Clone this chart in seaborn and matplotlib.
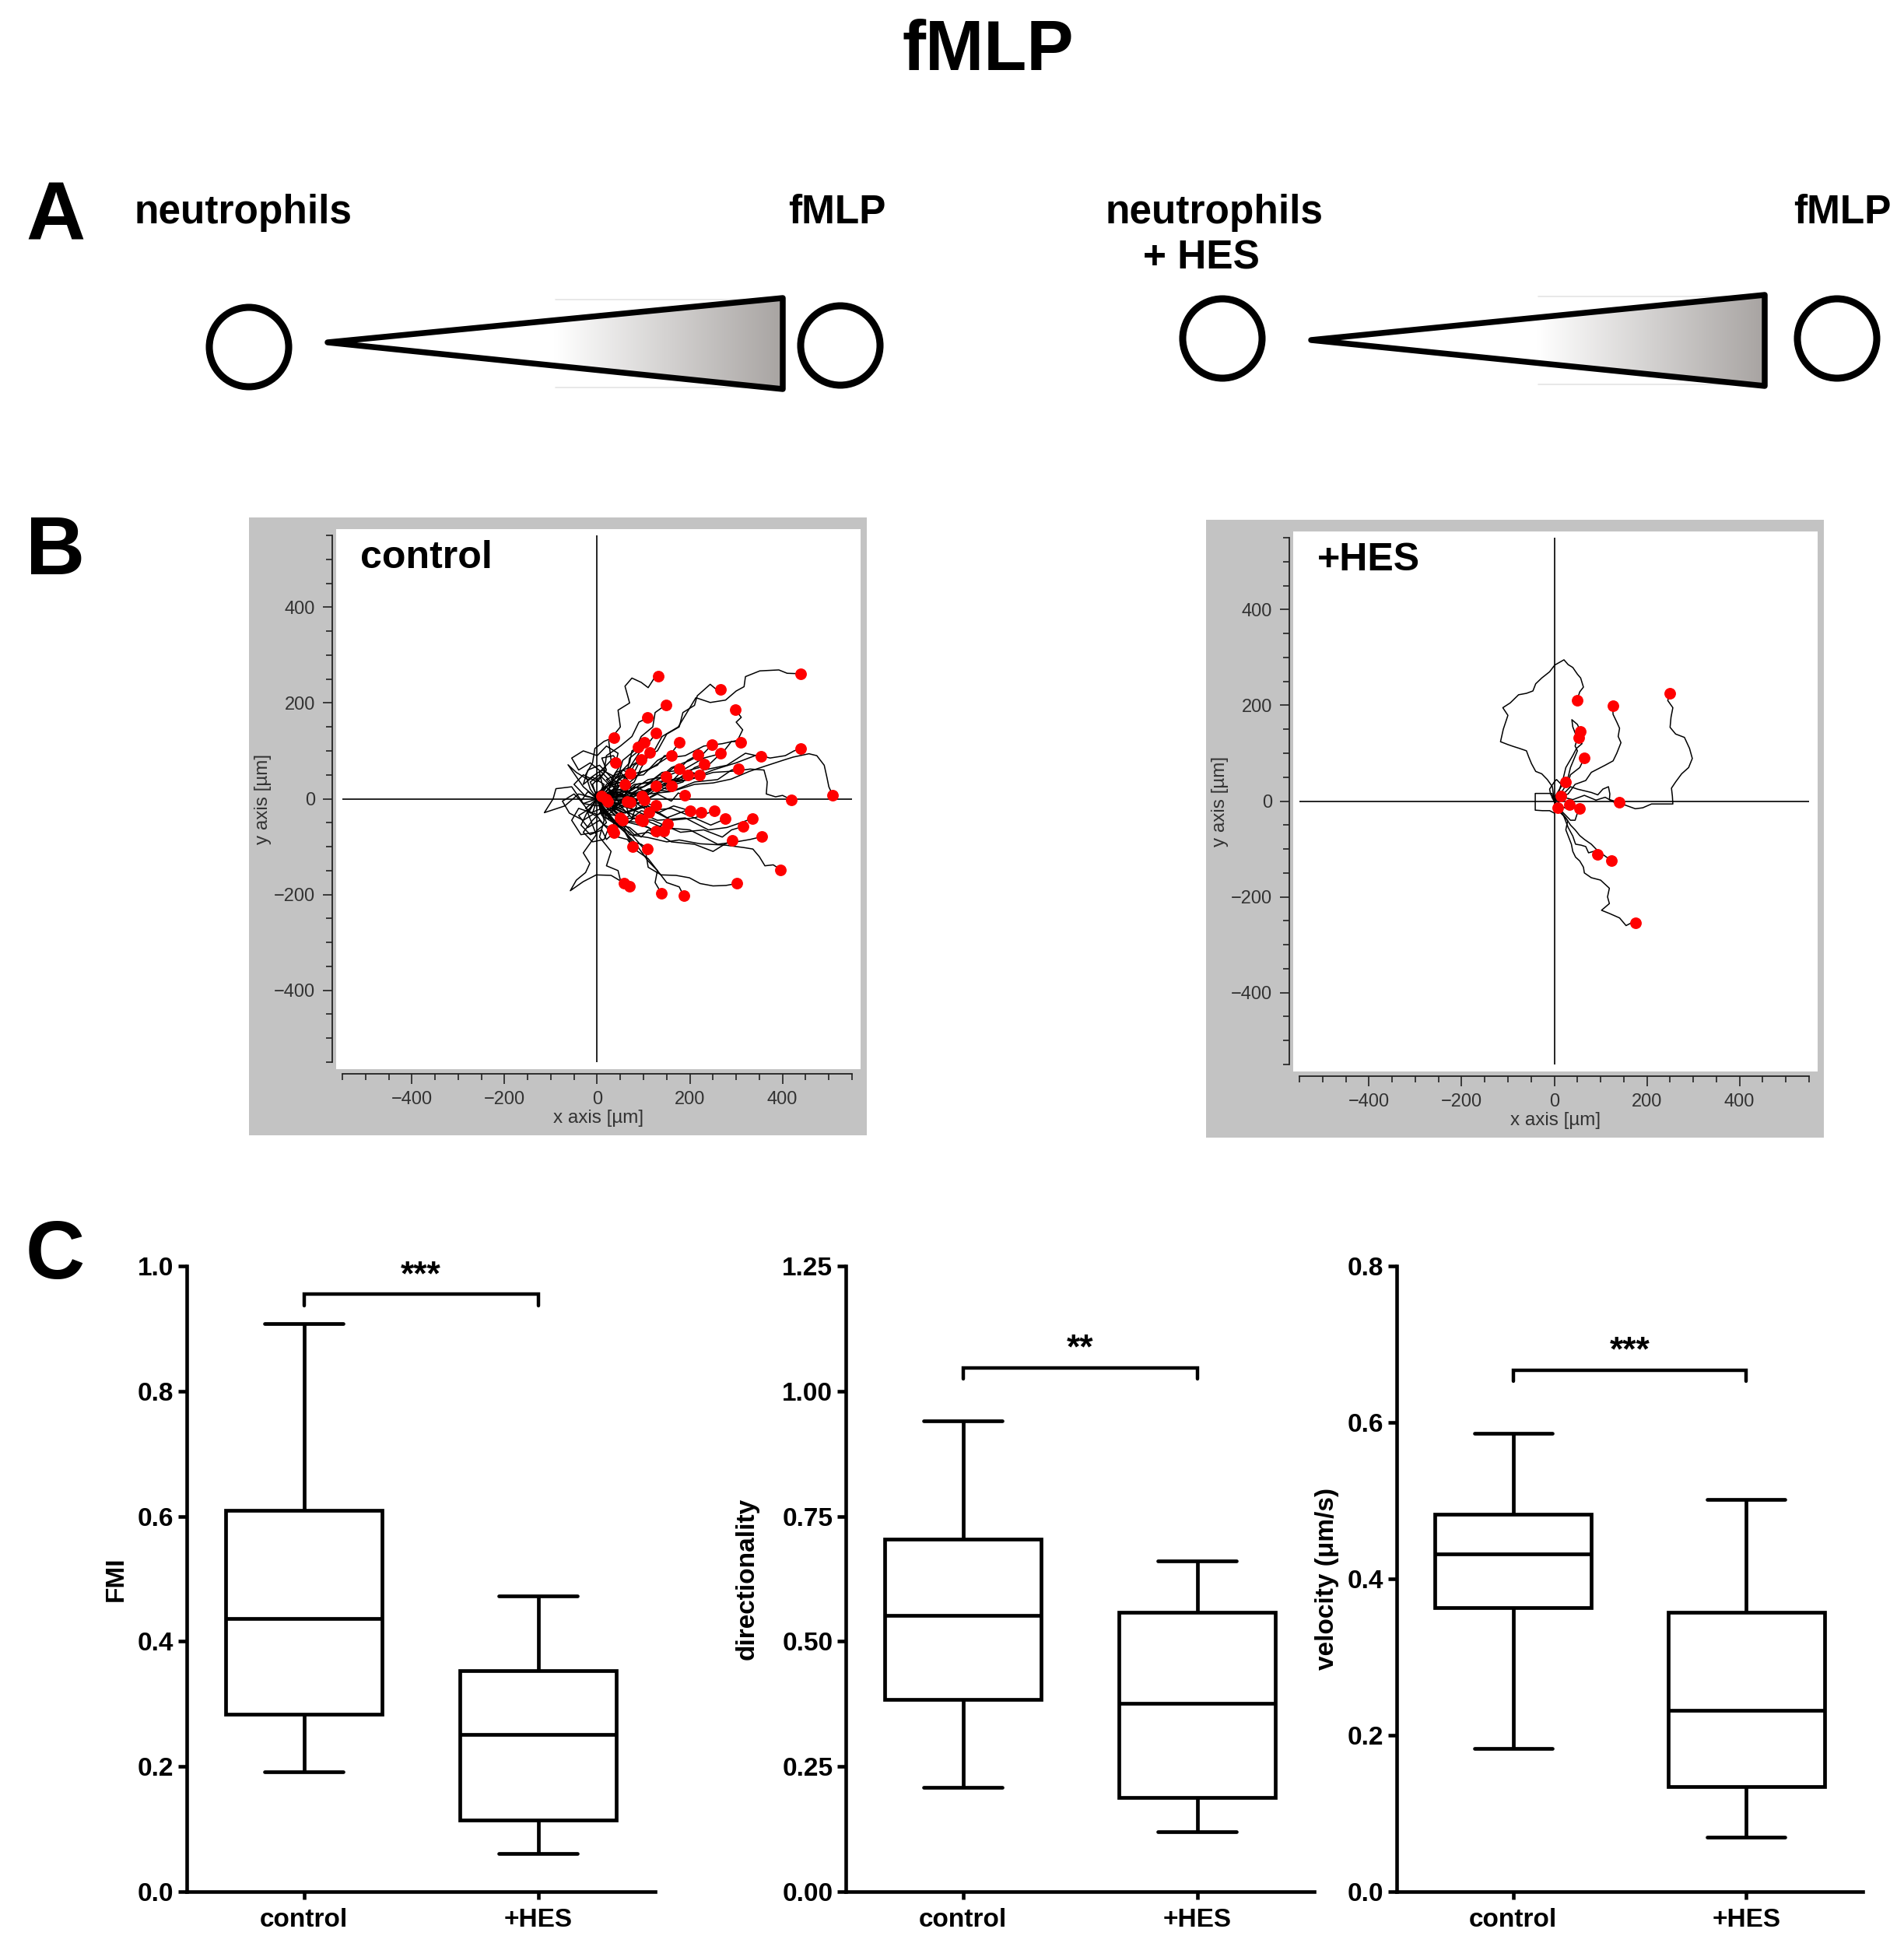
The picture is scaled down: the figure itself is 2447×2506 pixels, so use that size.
import numpy as np
import pandas as pd
import matplotlib
matplotlib.use("Agg")
import matplotlib.pyplot as plt
import seaborn as sns
from matplotlib.patches import Rectangle, Circle, Polygon
from matplotlib.colors import LinearSegmentedColormap

# ------------------------------------------------------------------ data
groups = ["control", "+HES"]

# box plot summaries: [min, q1, median, q3, max]
fmi_control = [0.191, 0.284, 0.436, 0.609, 0.908]
fmi_hes = [0.061, 0.114, 0.251, 0.353, 0.473]
dir_control = [0.209, 0.384, 0.552, 0.705, 0.940]
dir_hes = [0.120, 0.188, 0.376, 0.558, 0.660]
vel_control = [0.183, 0.363, 0.432, 0.483, 0.586]
vel_hes = [0.070, 0.134, 0.232, 0.357, 0.501]

sig_heights = [0.955, 1.047, 0.667]
sig_labels = ["***", "**", "***"]

fmi_ticks = [0.0, 0.2, 0.4, 0.6, 0.8, 1.0]
dir_ticks = [0.0, 0.25, 0.50, 0.75, 1.00, 1.25]
vel_ticks = [0.0, 0.2, 0.4, 0.6, 0.8]

track_major_ticks = [-400, -200, 0, 200, 400]
track_extent = 550

# trajectories (µm), each track starts at the origin; last point = red dot
control_tracks = [
    [(0,0),(12,25),(5,55),(30,80),(25,120),(50,150),(45,185),(70,200),(60,235),(75,252),(95,243),(110,232),(122,250),(131,256)],
    [(0,0),(30,10),(45,40),(80,55),(95,85),(130,100),(150,135),(177,150),(185,180),(210,195),(216,215),(244,239),(255,230),(267,229)],
    [(0,0),(25,30),(60,35),(80,70),(120,95),(140,130),(175,150),(200,190),(213,211),(244,201),(277,206),(300,225),(317,234),(320,255),(351,267),(392,269),(410,262),(439,261)],
    [(0,0),(20,30),(45,45),(55,80),(80,100),(95,130),(120,150),(125,180),(148,196)],
    [(0,0),(40,20),(70,50),(110,60),(150,85),(190,90),(230,110),(270,115),(303,122),(314,144),(300,160),(311,170),(298,186)],
    [(0,0),(-10,30),(15,55),(20,90),(50,110),(75,130),(90,160),(109,169)],
    [(0,0),(-15,20),(-25,50),(-10,75),(-5,105),(15,120),(36,128)],
    [(0,0),(25,20),(40,55),(70,65),(90,95),(110,115),(127,137)],
    [(0,0),(15,25),(40,30),(55,60),(70,75),(75,100),(88,108)],
    [(0,0),(30,10),(45,40),(65,55),(70,85),(90,100),(101,117)],
    [(0,0),(35,-10),(55,20),(80,35),(95,65),(105,80),(114,96)],
    [(0,0),(40,15),(60,45),(100,50),(130,80),(160,95),(178,118)],
    [(0,0),(45,5),(80,30),(125,35),(160,65),(200,80),(230,95),(248,113)],
    [(0,0),(50,20),(100,25),(140,55),(185,60),(230,85),(270,95),(290,120),(310,118)],
    [(0,0),(60,-5),(110,20),(160,30),(200,60),(240,70),(267,95)],
    [(0,0),(70,10),(120,35),(180,40),(230,60),(280,70),(320,95),(353,88)],
    [(0,0),(80,5),(140,30),(200,40),(250,60),(300,75),(346,92),(373,85),(406,90),(425,100),(439,105)],
    [(0,0),(30,25),(65,30),(95,55),(130,70),(145,90),(161,90)],
    [(0,0),(50,-10),(90,20),(130,40),(170,55),(195,80),(218,92)],
    [(0,0),(55,15),(100,5),(140,35),(185,45),(210,65),(231,73)],
    [(0,0),(20,15),(40,45),(60,50),(75,70),(95,82)],
    [(0,0),(60,-15),(110,10),(160,15),(210,35),(260,40),(290,60),(305,63)],
    [(0,0),(35,20),(70,15),(110,40),(140,45),(165,65),(178,62)],
    [(0,0),(45,-10),(90,15),(130,20),(165,40),(180,55),(195,50)],
    [(0,0),(50,10),(100,-5),(150,25),(185,35),(205,55),(221,50)],
    [(0,0),(-30,25),(-63,71),(-45,55),(-20,40),(10,60),(40,45),(55,60),(71,53)],
    [(0,0),(30,15),(55,5),(85,30),(115,35),(135,50),(148,46)],
    [(0,0),(40,-15),(75,10),(105,5),(135,25),(150,20),(161,27)],
    [(0,0),(25,20),(55,5),(80,25),(105,15),(126,27)],
    [(0,0),(45,15),(90,-10),(130,10),(160,-5),(175,12),(189,7)],
    [(0,0),(50,15),(100,10),(150,35),(200,40),(250,55),(300,58),(330,62),(360,60),(367,35),(365,10),(385,4),(400,7),(419,-2)],
    [(0,0),(60,-5),(110,20),(160,15),(210,30),(250,33),(289,41),(328,57),(362,68),(400,80),(423,87),(457,94),(474,90),(490,70),(496,44),(500,25),(508,8)],
    [(0,0),(-25,-20),(-5,-35),(25,-25),(45,-10),(71,-8)],
    [(0,0),(25,20),(45,-5),(70,5),(85,-10),(101,-2)],
    [(0,0),(-40,10),(-70,-15),(-114,-29),(-95,0),(-89,21),(-55,25),(-30,-10),(0,-15),(23,-6)],
    [(0,0),(30,-25),(55,-5),(80,-25),(105,-10),(126,-14)],
    [(0,0),(50,-20),(90,0),(130,-30),(165,-15),(200,-25)],
    [(0,0),(55,-30),(100,-15),(150,-40),(190,-25),(225,-29)],
    [(0,0),(60,5),(110,-25),(160,-20),(210,-40),(253,-25)],
    [(0,0),(20,-35),(50,-15),(75,-40),(95,-25),(112,-29)],
    [(0,0),(10,-30),(40,-35),(60,-55),(80,-40),(98,-46)],
    [(0,0),(60,-30),(110,-15),(160,-45),(210,-40),(245,-55),(277,-42)],
    [(0,0),(70,-20),(130,-45),(190,-40),(240,-65),(280,-60),(310,-50),(335,-41)],
    [(0,0),(60,-40),(120,-45),(180,-70),(230,-65),(270,-80),(290,-65),(315,-58)],
    [(0,0),(70,-30),(140,-60),(200,-65),(260,-95),(300,-90),(330,-85),(356,-79)],
    [(0,0),(50,-45),(110,-60),(160,-90),(210,-95),(250,-110),(275,-95),(292,-87)],
    [(0,0),(30,-20),(55,-45),(90,-50),(120,-65),(140,-55),(152,-52)],
    [(0,0),(20,-40),(55,-50),(80,-75),(110,-70),(130,-80),(143,-67)],
    [(0,0),(15,-30),(45,-55),(70,-60),(95,-80),(110,-65),(126,-68)],
    [(0,0),(-20,-25),(-35,-55),(-15,-75),(10,-65),(20,-85),(36,-71)],
    [(0,0),(10,-35),(35,-50),(45,-80),(65,-85),(77,-100)],
    [(0,0),(30,-40),(55,-60),(75,-90),(95,-95),(109,-104)],
    [(0,0),(40,-35),(70,-75),(110,-81),(150,-90),(177,-86),(222,-94),(278,-97),(317,-102),(336,-105),(350,-121),(362,-140),(380,-138),(396,-148)],
    [(0,0),(35,-50),(70,-70),(104,-108),(110,-143),(138,-159),(170,-160),(199,-165),(222,-177),(250,-182),(278,-181),(301,-177)],
    [(0,0),(-20,-30),(-2,-75),(-30,-113),(-16,-135),(-25,-154),(-45,-170),(-58,-192),(-30,-173),(-2,-159),(30,-160),(58,-176)],
    [(0,0),(15,-45),(5,-80),(30,-110),(20,-140),(45,-150),(50,-170),(69,-182)],
    [(0,0),(25,-40),(60,-70),(80,-105),(110,-125),(130,-150),(125,-175),(139,-198)],
    [(0,0),(45,-55),(80,-90),(110,-130),(130,-150),(150,-175),(177,-184),(187,-203)],
    # short wandering tracks that make up the dense cluster at the origin
    [(0,0),(-20,15),(-35,-5),(-15,-30),(10,-20),(-5,10),(20,25),(35,5),(15,-10),(20,0)],
    [(0,0),(15,30),(-10,45),(-30,30),(-20,60),(5,70),(25,50),(45,30),(30,10),(55,5),(65,-5)],
    [(0,0),(-15,-20),(-40,-35),(-20,-60),(5,-45),(30,-70),(45,-50),(70,-35),(60,-10),(85,-5),(96,5)],
    [(0,0),(10,-25),(-10,-45),(-30,-70),(-10,-90),(15,-85),(25,-60),(40,-75),(32,-64)],
    [(0,0),(25,-10),(40,20),(20,40),(50,55),(70,35),(60,15),(85,-15),(75,-40),(93,-43)],
    [(0,0),(-25,5),(-50,30),(-30,50),(0,35),(20,60),(10,85),(35,90),(50,70),(30,40),(60,30)],
    [(0,0),(-10,-30),(-40,-20),(-55,-45),(-35,-75),(-5,-70),(20,-50),(10,-25),(35,-20),(50,-40)],
    [(0,0),(30,35),(10,55),(-15,75),(-40,60),(-55,85),(-30,100),(0,90),(20,110),(45,95),(40,75)],
    [(0,0),(-30,-10),(-50,10),(-75,-5),(-60,-30),(-30,-45),(-5,-30),(15,-55),(40,-65),(55,-45)],
    [(0,0),(20,10),(35,-15),(55,0),(70,25),(50,40),(25,30),(5,50),(-15,35),(-5,15),(10,5)],
]

hes_tracks = [
    [(0,0),(20,8),(40,3),(65,12),(90,2),(110,8),(130,-3),(152,-8),(175,-16),(191,-14),(210,-6),(231,-6),(256,-6),(255,10),(253,27),(262,40),(275,57),(290,70),(298,89),(292,110),(281,133),(262,140),(250,154),(252,175),(256,195),(245,210),(249,225)],
    [(0,0),(10,-12),(15,-25),(29,-41),(25,-60),(37,-90),(40,-105),(46,-117),(55,-125),(63,-138),(65,-150),(80,-160),(100,-165),(119,-182),(115,-200),(119,-214),(102,-228),(120,-235),(141,-244),(155,-260),(165,-255),(176,-255)],
    [(0,0),(-4,30),(-15,45),(-27,57),(-40,62),(-49,78),(-55,92),(-60,105),(-75,110),(-88,114),(-100,118),(-116,124),(-110,150),(-100,179),(-111,195),(-95,205),(-77,222),(-60,225),(-46,230),(-40,245),(-27,257),(-10,270),(1,284),(21,295),(30,285),(40,279),(50,265),(57,257),(63,238),(55,228),(49,210)],
    [(0,0),(15,10),(30,15),(45,35),(68,43),(80,60),(96,68),(110,75),(127,84),(135,100),(144,122),(138,135),(141,152),(135,165),(127,181),(126,199)],
    [(0,0),(10,20),(20,50),(25,70),(40,95),(48,110),(60,120),(50,130),(40,155),(38,170),(50,160),(57,145)],
    [(0,0),(5,15),(15,30),(30,50),(35,70),(50,105),(45,115),(48,125),(53,133)],
    [(0,0),(10,10),(20,25),(30,40),(35,55),(55,70),(60,80),(65,90)],
    [(0,0),(10,8),(20,15),(35,30),(50,25),(63,22),(80,18),(94,13),(105,25),(117,30),(120,15),(119,3),(130,0),(140,-3)],
    [(0,0),(-8,15),(-10,25),(0,40),(5,45),(15,35),(25,39)],
    [(0,0),(-5,8),(5,12),(10,-5),(8,5),(15,11)],
    [(0,0),(-5,16),(-41,16),(-41,-19),(-25,-20),(-10,-20),(0,-25),(7,-14)],
    [(0,0),(8,-12),(15,-25),(18,-12),(25,-15),(32,-8)],
    [(0,0),(10,-15),(25,-30),(35,-40),(45,-40),(50,-25),(54,-15)],
    [(0,0),(8,-20),(20,-30),(30,-55),(40,-73),(46,-90),(58,-92),(68,-95),(74,-108),(85,-105),(93,-111)],
    [(0,0),(12,-20),(25,-35),(35,-50),(45,-60),(55,-72),(65,-80),(80,-90),(90,-100),(100,-108),(110,-115),(124,-125)],
]

# ------------------------------------------------------------------ style
sns.set_style("ticks")
plt.rcParams["font.family"] = ["Liberation Sans", "DejaVu Sans"]
plt.rcParams.update({"text.color": "black", "axes.labelcolor": "black",
                     "xtick.color": "black", "ytick.color": "black",
                     "axes.edgecolor": "black"})

W, H = 2447, 2506
fig = plt.figure(figsize=(W / 100, H / 100), dpi=100)


def rect(x0, y0, x1, y1):
    return [x0 / W, 1 - y1 / H, (x1 - x0) / W, (y1 - y0) / H]


def fx(x):
    return x / W


def fy(y):
    return 1 - y / H


# overlay axes in pixel coordinates (schematic, frames, headings)
over = fig.add_axes([0, 0, 1, 1], zorder=0)
over.set_xlim(0, W)
over.set_ylim(H, 0)
over.set_autoscale_on(False)
over.axis("off")

over.text(1270, 90, "fMLP", ha="center", va="baseline", fontsize=65, fontweight="bold")
over.text(33, 308, "A", ha="left", va="baseline", fontsize=76, fontweight="bold")
over.text(33, 738, "B", ha="left", va="baseline", fontsize=76, fontweight="bold")
over.text(33, 1643, "C", ha="left", va="baseline", fontsize=76, fontweight="bold")

over.text(172, 287, "neutrophils", ha="left", va="baseline", fontsize=37, fontweight="bold")
over.text(1013, 287, "fMLP", ha="left", va="baseline", fontsize=37, fontweight="bold")
over.text(1561, 287, "neutrophils", ha="center", va="baseline", fontsize=37, fontweight="bold")
over.text(1544, 345, "+ HES", ha="center", va="baseline", fontsize=37, fontweight="bold")
over.text(2305, 287, "fMLP", ha="left", va="baseline", fontsize=37, fontweight="bold")

grad_cmap = LinearSegmentedColormap.from_list(
    "grad", [(0, "white"), (0.5, "white"), (1.0, "#a8a4a2")])


def schematic(c1, c2, tip, xr, ytop, ybot):
    for c in (c1, c2):
        over.add_patch(Circle(c, 51, fill=False, lw=6.5, edgecolor="black", zorder=3))
    tri = Polygon([tip, (xr, ytop), (xr, ybot)], closed=True, facecolor="none",
                  edgecolor="black", lw=5.4, joinstyle="round", zorder=3)
    over.add_patch(tri)
    grad = np.linspace(0, 1, 256).reshape(1, -1)
    im = over.imshow(grad, cmap=grad_cmap, extent=(tip[0], xr, ybot, ytop),
                     aspect="auto", zorder=2, interpolation="bilinear")
    im.set_clip_path(tri)
    xg = tip[0] + 0.5 * (xr - tip[0])
    over.plot([xg, xr], [ytop + 2, ytop + 2], color="#e4e4e4", lw=1.2, zorder=1)
    over.plot([xg, xr], [ybot - 2, ybot - 2], color="#e4e4e4", lw=1.2, zorder=1)


schematic((320, 446), (1080, 444), (421, 440), 1006, 383, 500)
schematic((1571, 435), (2361, 435), (1685, 437), 2268, 379, 496)
over.set_xlim(0, W)
over.set_ylim(H, 0)


# ------------------------------------------------------------------ panel B
def track_panel(tracks, dx, dy, title):
    frame = (320 + dx, 665 + dy, 1114 + dx, 1459 + dy)
    over.add_patch(Rectangle((frame[0], frame[1]), frame[2] - frame[0], frame[3] - frame[1],
                             facecolor="#c3c3c3", edgecolor="none", zorder=0))
    white = (432 + dx, 680 + dy, 1106 + dx, 1374 + dy)
    ax = fig.add_axes(rect(*white), zorder=2)
    ax.set_facecolor("white")

    rows = [(i, j, x, y) for i, tr in enumerate(tracks) for j, (x, y) in enumerate(tr)]
    df = pd.DataFrame(rows, columns=["track", "step", "x", "y"])
    ends = df.groupby("track").last().reset_index()

    ax.hlines(0, -track_extent, track_extent, color="black", lw=1.2, zorder=1)
    ax.vlines(0, -track_extent, track_extent, color="black", lw=1.2, zorder=1)
    sns.lineplot(data=df, x="x", y="y", units="track", estimator=None, sort=False,
                 color="black", lw=1.1, ax=ax, zorder=2)
    sns.scatterplot(data=ends, x="x", y="y", color="#ff0000", s=115, linewidth=0,
                    ax=ax, zorder=3)

    pxu_x = (1095 - 440) / (2 * track_extent)
    pxu_y = (1365 - 688) / (2 * track_extent)
    ax.set_xlim(-track_extent - 8 / pxu_x, track_extent + 11 / pxu_x)
    ax.set_ylim(-track_extent - 9 / pxu_y, track_extent + 8 / pxu_y)

    for s in ("top", "right"):
        ax.spines[s].set_visible(False)
    ax.spines["left"].set_position(("outward", 3.6))
    ax.spines["bottom"].set_position(("outward", 4.3))
    ax.spines["left"].set_bounds(-track_extent, track_extent)
    ax.spines["bottom"].set_bounds(-track_extent, track_extent)
    for s in ("left", "bottom"):
        ax.spines[s].set_color("#222222")
        ax.spines[s].set_linewidth(1.3)

    ax.set_xticks(track_major_ticks)
    ax.set_yticks(track_major_ticks)
    minor = np.arange(-track_extent, track_extent + 1, 50)
    ax.set_xticks(minor, minor=True)
    ax.set_yticks(minor, minor=True)
    ax.tick_params(which="major", length=9, width=1.2, color="#222222",
                   labelsize=17, labelcolor="#333333", pad=7)
    ax.tick_params(which="minor", length=6, width=1.2, color="#222222")
    ax.set_xlabel("x axis [µm]", fontsize=17.5, color="#333333", labelpad=1)
    ax.set_ylabel("y axis [µm]", fontsize=17.5, color="#333333", labelpad=2)
    ax.text(fx(463 + dx), fy(730 + dy), title, transform=fig.transFigure,
            fontsize=36, fontweight="bold", ha="left", va="baseline", color="black")
    return ax


track_panel(control_tracks, 0, 0, "control")
track_panel(hes_tracks, 1230, 3, "+HES")


# ------------------------------------------------------------------ panel C
def box_panel(box, control, hes, ylabel, ticks, fmt, sig_y, sig_label, label_x):
    ax = fig.add_axes(rect(*box), zorder=2)
    df = pd.DataFrame({"group": [groups[0]] * len(control) + [groups[1]] * len(hes),
                       "value": control + hes})
    sns.boxplot(data=df, x="group", y="value", order=groups, ax=ax, whis=(0, 100),
                width=0.67, color="white", linecolor="black", linewidth=3.4,
                fliersize=0, saturation=1)
    ymax = ticks[-1]
    ax.set_ylim(0, ymax)
    ax.set_xlim(-0.5, 1.5)
    d = 0.018 * ymax
    ax.plot([0, 0, 1, 1], [sig_y - d, sig_y, sig_y, sig_y - d], color="black",
            lw=3.2, solid_joinstyle="miter", clip_on=False)
    ax.text(0.5, sig_y + 0.004 * ymax, sig_label, ha="center", va="bottom",
            fontsize=32, fontweight="bold", color="black")
    sns.despine(ax=ax)
    for s in ("left", "bottom"):
        ax.spines[s].set_linewidth(3.3)
        ax.spines[s].set_color("black")
    ax.set_yticks(ticks)
    ax.set_yticklabels([fmt.format(v) for v in ticks], fontsize=24, fontweight="bold")
    ax.set_xticks(range(len(groups)))
    ax.set_xticklabels(groups, fontsize=24, fontweight="bold")
    ax.tick_params(axis="y", length=8, width=3.3, color="black", pad=4)
    ax.tick_params(axis="x", length=7, width=3.3, color="black", pad=8)
    ax.set_xlabel("")
    ax.set_ylabel(ylabel, fontsize=24, fontweight="bold", color="black")
    ax.yaxis.label.set_va("center")
    ax.yaxis.set_label_coords(label_x, 0.5)
    return ax


box_panel((240, 1627, 842, 2431), fmi_control, fmi_hes, "FMI", fmi_ticks,
          "{:.1f}", sig_heights[0], sig_labels[0], -0.151)
box_panel((1087, 1627, 1689, 2431), dir_control, dir_hes, "directionality", dir_ticks,
          "{:.2f}", sig_heights[1], sig_labels[1], -0.211)
box_panel((1795, 1627, 2394, 2431), vel_control, vel_hes, "velocity (μm/s)", vel_ticks,
          "{:.1f}", sig_heights[2], sig_labels[2], -0.149)

fig.savefig("out.png", dpi=100, facecolor="white")
